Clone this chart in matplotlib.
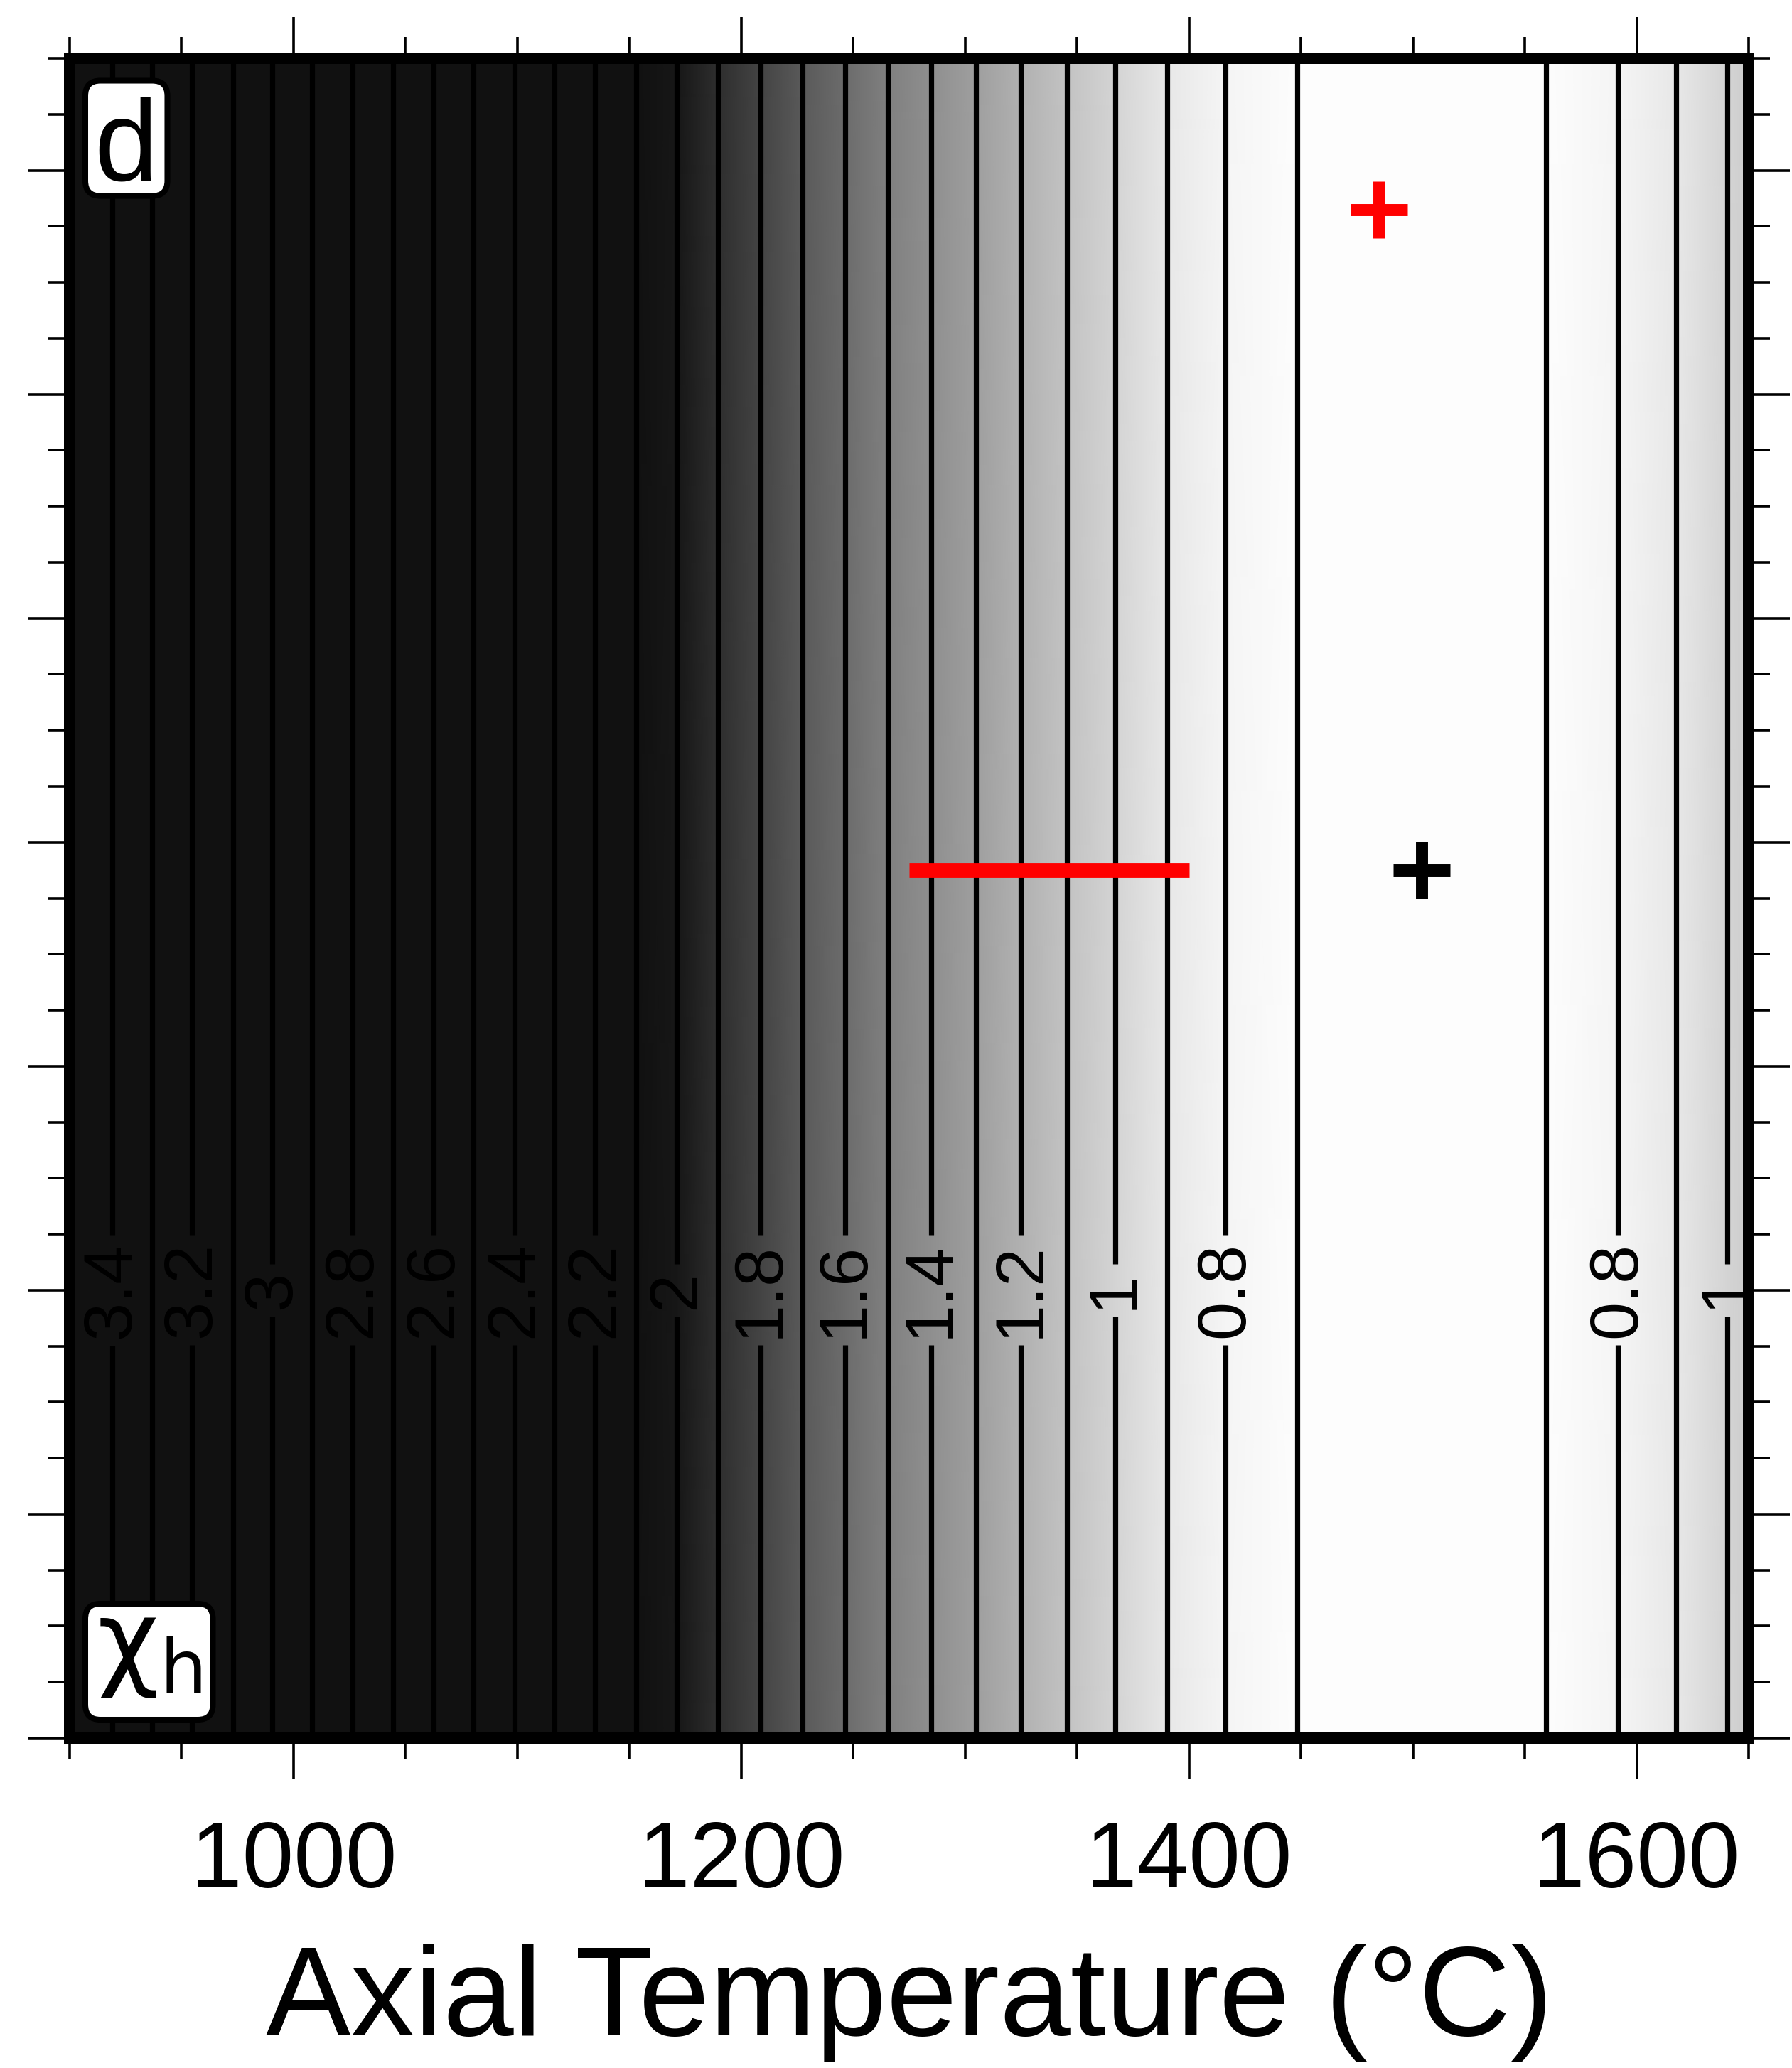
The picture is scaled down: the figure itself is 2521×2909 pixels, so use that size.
import numpy as np
import matplotlib
matplotlib.use('Agg')
import matplotlib.pyplot as plt
from matplotlib.colors import LinearSegmentedColormap
from matplotlib.patches import FancyBboxPatch
from matplotlib.ticker import MultipleLocator

plt.rcParams['font.family'] = ['Liberation Sans', 'DejaVu Sans']
plt.rcParams['mathtext.fontset'] = 'dejavusans'

# chi_h against axial temperature, read where the contours cross
temp = [900, 918.9, 936.8, 954.6, 972.9, 990.5, 1008.4, 1026.4, 1044.5, 1062.6,
        1080.4, 1098.8, 1116.6, 1134.8, 1153.2, 1171.2, 1189.6, 1208.6, 1227.4, 1246.4,
        1265.5, 1284.7, 1304.8, 1324.9, 1345.4, 1367.1, 1390.3, 1416.3, 1448.4,
        1476, 1504, 1532,
        1559.5, 1591.6, 1617.6, 1640.5, 1650]
chi = [3.5, 3.4, 3.3, 3.2, 3.1, 3.0, 2.9, 2.8, 2.7, 2.6,
       2.5, 2.4, 2.3, 2.2, 2.1, 2.0, 1.9, 1.8, 1.7, 1.6,
       1.5, 1.4, 1.3, 1.2, 1.1, 1.0, 0.9, 0.8, 0.7,
       0.65, 0.63, 0.65,
       0.7, 0.8, 0.9, 1.0, 1.04]
y_range = [0, 30]

# markers
red_plus = (1485, 27.3)
black_plus = (1504, 15.5)
red_bar_T = [1275, 1400]
red_bar_y = 15.5

levels = np.round(np.arange(0.7, 3.45, 0.1), 1)
label_levels = np.round(np.arange(0.8, 3.45, 0.2), 1)
plain_levels = [lv for lv in levels if not np.any(np.isclose(lv, label_levels))]
label_y = 8

# grey scale used for the shading
shade_v = [0.6, 0.7, 0.8, 0.9, 1.0, 1.1, 1.2, 1.3, 1.4, 1.5, 1.6, 1.7, 1.8, 1.9, 2.0, 2.05, 3.6]
shade_g = [0.995, 0.99, 0.96, 0.905, 0.83, 0.76, 0.695, 0.62, 0.56, 0.50, 0.425, 0.35,
           0.265, 0.175, 0.09, 0.067, 0.067]
vmin, vmax = shade_v[0], shade_v[-1]
cmap = LinearSegmentedColormap.from_list(
    'chi_grey', [((v - vmin) / (vmax - vmin), (g, g, g)) for v, g in zip(shade_v, shade_g)])

X = np.array([temp, temp])
Y = np.array([[y_range[0]] * len(temp), [y_range[1]] * len(temp)])
Z = np.array([chi, chi])

fig = plt.figure(figsize=(12.605, 14.545), dpi=200)
ax = fig.add_axes([0.03887, 0.15950, 0.93693, 0.81231])

ax.pcolormesh(X, Y, Z, cmap=cmap, vmin=vmin, vmax=vmax, shading='gouraud', zorder=0)
ax.contour(X, Y, Z, levels=plain_levels, colors='k', linewidths=2.6, zorder=1)
cs = ax.contour(X, Y, Z, levels=label_levels, colors='k', linewidths=2.6, zorder=1)

label_pos = [(t, label_y) for t, c in zip(temp, chi) if np.any(np.isclose(c, label_levels))]
texts = ax.clabel(cs, manual=label_pos, inline=True, inline_spacing=10,
                  fmt='%g', fontsize=35, colors='k')
for t in texts:
    t.set_rotation(90)

ax.plot(red_bar_T, [red_bar_y, red_bar_y], color='red', lw=7.5, solid_capstyle='butt', zorder=3)
ax.plot(*red_plus, marker='+', color='red', ms=28.8, mew=6.1, zorder=4)
ax.plot(*black_plus, marker='+', color='black', ms=28.8, mew=6.1, zorder=4)

ax.set_xlim(900, 1650)
ax.set_ylim(*y_range)
ax.xaxis.set_major_locator(MultipleLocator(200))
ax.xaxis.set_minor_locator(MultipleLocator(50))
ax.yaxis.set_major_locator(MultipleLocator(4))
ax.yaxis.set_minor_locator(MultipleLocator(1))
ax.tick_params(which='both', direction='out', top=True, right=True, labelleft=False,
               width=1.3, color='k')
ax.tick_params(which='major', length=20.9, labelsize=47, pad=20)
ax.tick_params(which='minor', length=10.8)
for sp in ax.spines.values():
    sp.set_linewidth(5.76)
    sp.set_zorder(6)

ax.set_xlabel('Axial Temperature (°C)', fontsize=64.5, labelpad=19)

# panel tags
ax.add_patch(FancyBboxPatch((0.00931, 0.91808), 0.0489, 0.06859,
                            boxstyle='round,pad=0,rounding_size=0.009', transform=ax.transAxes,
                            fc='white', ec='black', lw=2.9, zorder=5))
ax.text(0.0334, 0.9276, 'd', transform=ax.transAxes, ha='center', va='baseline',
        fontsize=58, zorder=6)
ax.add_patch(FancyBboxPatch((0.00931, 0.0110), 0.0760, 0.0690,
                            boxstyle='round,pad=0,rounding_size=0.009', transform=ax.transAxes,
                            fc='white', ec='black', lw=2.9, zorder=5))
ax.text(0.0472, 0.0368, r'$\mathrm{\chi}_\mathrm{h}$', transform=ax.transAxes, ha='center',
        va='baseline', fontsize=54, zorder=6)

fig.savefig('out.png', dpi=200)
